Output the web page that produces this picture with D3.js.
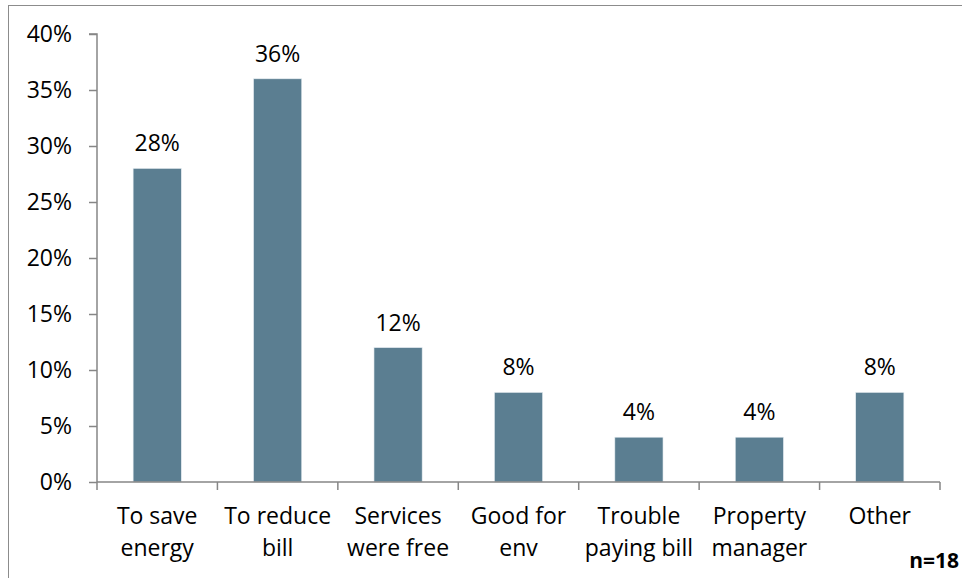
<!DOCTYPE html>
<html>
<head>
<meta charset="utf-8">
<script src="https://cdn.jsdelivr.net/npm/d3@7"></script>
<style>
  html, body { margin: 0; padding: 0; background: #fff; }
  svg { display: block; }
  text { font-family: "Open Sans", "Noto Sans", sans-serif; fill: #000; }
</style>
</head>
<body>
<svg id="chart" width="962" height="578"></svg>
<script>
const categories = [
  ["To save", "energy"],
  ["To reduce", "bill"],
  ["Services", "were free"],
  ["Good for", "env"],
  ["Trouble", "paying bill"],
  ["Property", "manager"],
  ["Other"]
];
const values = [28, 36, 12, 8, 4, 4, 8];
const yTicks = [0, 5, 10, 15, 20, 25, 30, 35, 40];
const sampleNote = "n=18";

const svg = d3.select("#chart");
const margin = { left: 97, right: 22, top: 34, bottom: 96 };
const W = 962, H = 578;
const fontSize = "23px";

// Outer frame of the chart area
svg.append("rect")
  .attr("x", 8.5).attr("y", 5.5)
  .attr("width", 970).attr("height", 600)
  .attr("fill", "none").attr("stroke", "#8c8c8c").attr("stroke-width", 1);

const x = d3.scaleBand()
  .domain(d3.range(categories.length))
  .range([margin.left, W - margin.right])
  .paddingInner(0.6).paddingOuter(0.3);

const y = d3.scaleLinear()
  .domain([0, 40])
  .range([H - margin.bottom, margin.top]);

// Y axis
const yAxis = svg.append("g")
  .attr("transform", `translate(${margin.left},0)`)
  .call(d3.axisLeft(y).tickValues(yTicks).tickSize(8).tickPadding(17)
    .tickFormat(d => d + "%"));
yAxis.selectAll("path, line").attr("stroke", "#868686").attr("stroke-width", 1.5);
yAxis.select(".domain").attr("d", `M-8,${y(40)}H0V${y(0)}`);
yAxis.selectAll("text").style("font-size", fontSize).attr("fill", "#000");

// Bars
svg.append("g").selectAll("rect")
  .data(values)
  .join("rect")
  .attr("x", (d, i) => x(i))
  .attr("y", d => y(d))
  .attr("width", x.bandwidth())
  .attr("height", d => y(0) - y(d))
  .attr("fill", "#5b7e91")
  .attr("stroke", "#e6edf2").attr("stroke-width", 0.6);

// Value labels
svg.append("g").selectAll("text")
  .data(values)
  .join("text")
  .attr("x", (d, i) => x(i) + x.bandwidth() / 2)
  .attr("y", d => y(d) - 17)
  .attr("text-anchor", "middle")
  .style("font-size", fontSize)
  .text(d => d + "%");

// X axis with category boundary ticks
const step = (W - margin.right - margin.left) / categories.length;
const xg = svg.append("g");
xg.append("line")
  .attr("x1", margin.left).attr("x2", W - margin.right)
  .attr("y1", y(0)).attr("y2", y(0))
  .attr("stroke", "#868686").attr("stroke-width", 1.5);
xg.selectAll("line.tick")
  .data(d3.range(categories.length + 1))
  .join("line")
  .attr("class", "tick")
  .attr("x1", i => margin.left + i * step).attr("x2", i => margin.left + i * step)
  .attr("y1", y(0)).attr("y2", y(0) + 8)
  .attr("stroke", "#868686").attr("stroke-width", 1.5);

const labels = xg.selectAll("text")
  .data(categories)
  .join("text")
  .attr("text-anchor", "middle")
  .style("font-size", fontSize);
labels.each(function(lines, i) {
  const t = d3.select(this);
  lines.forEach((ln, k) => {
    t.append("tspan")
      .attr("x", x(i) + x.bandwidth() / 2)
      .attr("y", y(0) + 42 + k * 32)
      .text(ln);
  });
});

// Sample size note
svg.append("text")
  .attr("x", 959).attr("y", 568)
  .attr("text-anchor", "end")
  .style("font-size", "21px").style("font-weight", "bold")
  .text(sampleNote);
</script>
</body>
</html>
